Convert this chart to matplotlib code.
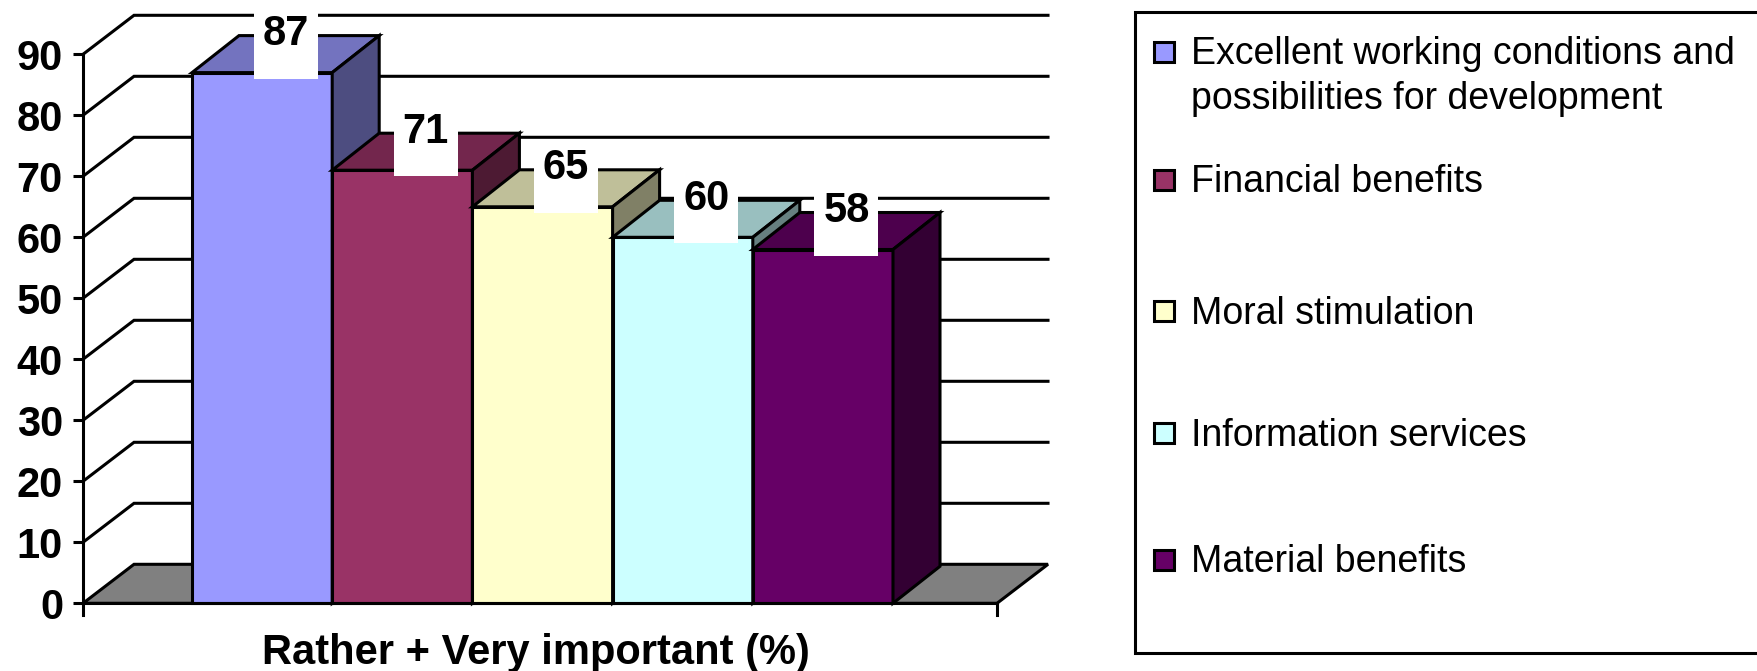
"""
3D-style column chart: reasons rated "Rather + Very important" (%).
Recreated with plain matplotlib patches so the Excel look survives.
"""

import matplotlib
matplotlib.use("Agg")
import matplotlib.pyplot as plt
from matplotlib.patches import Polygon, Rectangle
import numpy as np

plt.rcParams["font.family"] = ["Liberation Sans", "DejaVu Sans"]

# --- data ---------------------------------------------------------------
CATEGORIES = [
    "Excellent working conditions and\npossibilities for development",
    "Financial benefits",
    "Moral stimulation",
    "Information services",
    "Material benefits",
]
VALUES = [87, 71, 65, 60, 58]
COLORS = ["#9999FF", "#993366", "#FFFFCC", "#CCFFFF", "#660066"]
Y_TICKS = list(range(0, 91, 10))
X_TITLE = "Rather + Very important (%)"

# --- layout (pixels of the 1757x671 canvas) -----------------------------
W, H = 1757, 671
PX_X = 140.2          # pixels per bar width
PX_Y = 6.1            # pixels per percentage point
Y0_PX = 603.3         # y pixel of value 0 on the front plane
X0_PX = 83            # x pixel of the y axis
BACK_PX = 1048        # right end of the back wall
FRONT_LEN = 914 / PX_X
BAR_START = (192 - X0_PX) / PX_X
WALL_DX, WALL_DY = 51 / PX_X, 39 / PX_Y
BAR_DX, BAR_DY = 47 / PX_X, 37 / PX_Y
LW = 2.2


def shade(color, f):
    rgb = np.array(matplotlib.colors.to_rgb(color))
    return tuple(rgb * f)


fig = plt.figure(figsize=(W / 100, H / 100), dpi=100)
ax = fig.add_axes([X0_PX / W, (H - Y0_PX) / H, (BACK_PX - X0_PX) / W, Y0_PX / H])
ax.set_xlim(0, (BACK_PX - X0_PX) / PX_X)
ax.set_ylim(0, Y0_PX / PX_Y)
ax.patch.set_visible(False)
for s in ax.spines.values():
    s.set_visible(False)
ax.set_xticks([])
ax.set_yticks(Y_TICKS)
ax.set_yticklabels([str(t) for t in Y_TICKS], fontsize=30, fontweight="bold")
ax.tick_params(axis="y", length=7.2, width=LW, pad=7.2, direction="out")

xmax = ax.get_xlim()[1]
below = -12 / PX_Y

# back wall / side wall gridlines
for v in Y_TICKS[1:]:
    ax.plot([0, WALL_DX, xmax], [v, v + WALL_DY, v + WALL_DY],
            color="black", lw=LW, zorder=1, clip_on=False, solid_joinstyle="miter")

# floor
ax.add_patch(Polygon([(0, 0), (WALL_DX, WALL_DY), (xmax, WALL_DY), (FRONT_LEN, 0)],
                     closed=True, facecolor="#808080", edgecolor="black", lw=LW,
                     zorder=2, clip_on=False))

# bars, left to right so each one hides the side of its neighbour
for i, (v, c) in enumerate(zip(VALUES, COLORS)):
    x = BAR_START + i
    z = 3 + i
    ax.bar(x, v, width=1, align="edge", color=c, edgecolor="black", lw=LW,
           zorder=z, clip_on=False)
    top = [(x, v), (x + 1, v), (x + 1 + BAR_DX, v + BAR_DY), (x + BAR_DX, v + BAR_DY)]
    side = [(x + 1, 0), (x + 1, v), (x + 1 + BAR_DX, v + BAR_DY), (x + 1 + BAR_DX, BAR_DY)]
    ax.add_patch(Polygon(top, closed=True, facecolor=shade(c, 0.75),
                         edgecolor="black", lw=LW, zorder=z, clip_on=False))
    ax.add_patch(Polygon(side, closed=True, facecolor=shade(c, 0.5),
                         edgecolor="black", lw=LW, zorder=z, clip_on=False))

# axis lines
ax.plot([0, 0], [below, Y_TICKS[-1]], color="black", lw=LW, zorder=15, clip_on=False)
ax.plot([0, FRONT_LEN], [0, 0], color="black", lw=LW, zorder=15, clip_on=False)
ax.plot([FRONT_LEN, FRONT_LEN], [0, below], color="black", lw=LW, zorder=15, clip_on=False)

# value labels on white boxes
box_w = 64 / PX_X
for i, v in enumerate(VALUES):
    cx = BAR_START + i + 0.5 + BAR_DX / 2
    ax.add_patch(Rectangle((cx - box_w / 2, v - 1.0), box_w, 12.1,
                           facecolor="white", edgecolor="none", zorder=20, clip_on=False))
    ax.text(cx, v + 6.3, str(v), ha="center", va="center", fontsize=30,
            fontweight="bold", zorder=21, clip_on=False)

fig.text(536 / W, 1 - 664 / H, X_TITLE, ha="center", va="baseline",
         fontsize=30, fontweight="bold")

# legend (drawn by hand to match the original box)
fig.patches.append(Rectangle((1135 / W, 1 - 653 / H), (W + 20 - 1135) / W, (653 - 11.7) / H,
                             transform=fig.transFigure, facecolor="white",
                             edgecolor="black", lw=LW, zorder=0))
row_centers = [51.5, 180, 311, 433, 559.5]
for name, c, yc in zip(CATEGORIES, COLORS, row_centers):
    fig.patches.append(Rectangle((1153.5 / W, 1 - (yc + 10) / H), 20 / W, 20 / H,
                                 transform=fig.transFigure, facecolor=c,
                                 edgecolor="black", lw=LW, zorder=2))
    for k, line in enumerate(name.split("\n")):
        fig.text(1191 / W, 1 - (yc + 12.5 + 45 * k) / H, line, ha="left",
                 va="baseline", fontsize=27)

fig.savefig("out.png", dpi=100)
